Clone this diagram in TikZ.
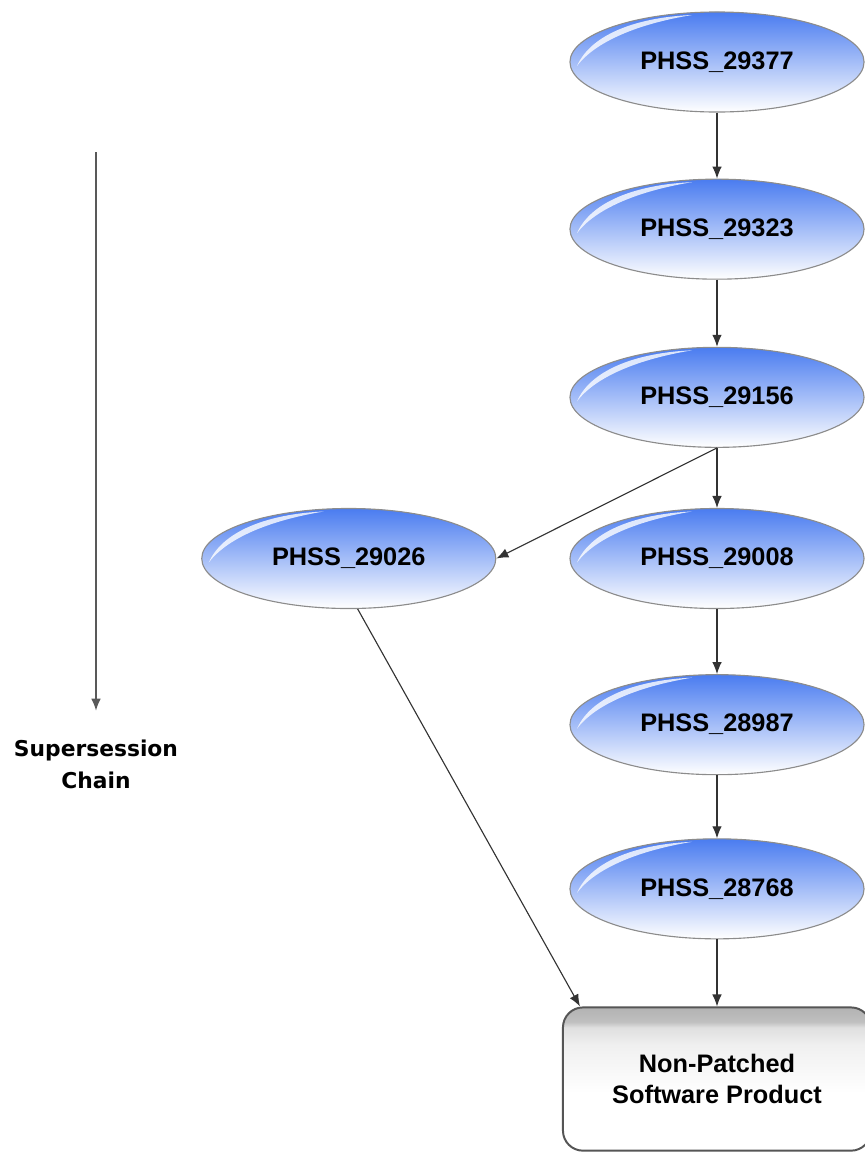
\documentclass[tikz,border=0pt]{standalone}
\usepackage{fontspec}
\setmainfont{Liberation Sans}
\newfontfamily\legendfont{DejaVu Sans}
\usepackage{xcolor}
\usetikzlibrary{arrows.meta,positioning,shapes.geometric,calc}
\definecolor{phssblue}{HTML}{4A7CF0}
\definecolor{phssedge}{HTML}{8C8C8C}
\definecolor{phssline}{HTML}{333333}
\definecolor{prodedge}{HTML}{555555}
\pgfdeclareverticalshading{prodshade}{100bp}{color(0bp)=(white); color(25bp)=(white);
  color(45bp)=(white); color(62bp)=(gray!12); color(68bp)=(gray!25); color(70bp)=(gray!50);
  color(75bp)=(gray!60); color(100bp)=(gray!60)}

\begin{document}
\begin{tikzpicture}[
        x=0.025cm, y=-0.025cm,
        node distance=1.65cm,
        patch/.style={
          ellipse,
          draw=phssedge,
          thick,
          minimum width=7.35cm,
          minimum height=2.5cm,
          top color=phssblue,
          middle color=phssblue!35,
          bottom color=white,
          font=\fontsize{18}{21}\selectfont\bfseries
        },
        gloss/.style={
          white,
          opacity=0.8
        },
        product/.style={
          draw=prodedge,
          line width=1.4pt,
          rounded corners=0.5cm,
          minimum width=7.7cm,
          minimum height=3.58cm,
          align=center,
          shading=prodshade,
          font=\fontsize{18}{22}\selectfont\bfseries
        },
        arrow/.style={
          -{Latex[length=3mm,width=2.4mm]},
          thick,
          phssline
        }
      ]

      \useasboundingbox (0,0) rectangle (864,1152);

      % supersession chain
      \node[patch] (p377) at (717,62) {PHSS\_29377};
      \node[patch, below=of p377] (p323) {PHSS\_29323};
      \node[patch, below=1.675cm of p323] (p156) {PHSS\_29156};
      \node[patch, below=1.5cm of p156] (p008) {PHSS\_29008};
      \node[patch, below=1.625cm of p008] (p987) {PHSS\_28987};
      \node[patch, below=1.575cm of p987] (p768) {PHSS\_28768};
      \node[patch, left=1.825cm of p008] (p026) {PHSS\_29026};
      \node[product, below=1.675cm of p768] (prod) {Non-Patched\\Software Product};

      % shine on the ellipses
      \foreach \n in {p377,p323,p156,p008,p987,p768,p026}
        \fill[gloss, shift={(\n.center)}] (-140,4) .. controls (-125,-30) and (-75,-45) .. (-25,-47)
          .. controls (-80,-38) and (-122,-20) .. cycle;

      \draw[arrow] (p377) -- (p323);
      \draw[arrow] (p323) -- (p156);
      \draw[arrow] (p156) -- (p008);
      \draw[arrow] (p008) -- (p987);
      \draw[arrow] (p987) -- (p768);
      \draw[arrow] (p768) -- (prod);
      \draw[arrow] (p156.south) -- (p026.east);
      \draw[arrow] (p026.-80) -- ([xshift=0.45cm]prod.north west);

      % legend
      \coordinate (chaintop) at (96,152);
      \node[font=\legendfont\fontsize{15.5}{22.7}\selectfont\bfseries, align=center] (chain) at (96,764) {Supersession\\Chain};
      \draw[arrow, gray!70!black, shorten >=0.6cm] (chaintop) -- (chain.north);

      \end{tikzpicture}
\end{document}
